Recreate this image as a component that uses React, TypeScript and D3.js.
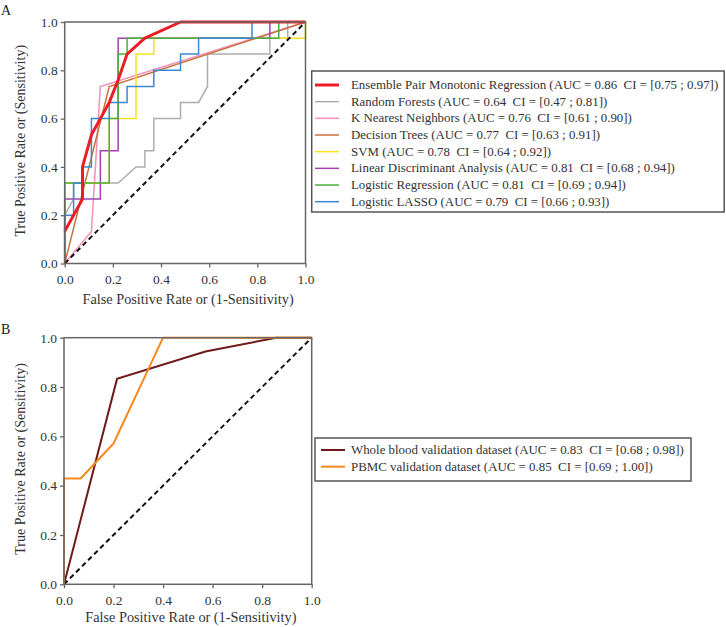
import React, { useEffect, useRef } from "react";
import * as d3 from "d3";

type Pt = [number, number];

const tickValues = [0, 0.2, 0.4, 0.6, 0.8, 1.0];

// Panel A - models on the training set
const modelNames = [
  "Ensemble Pair Monotonic Regression",
  "Random Forests",
  "K Nearest Neighbors",
  "Decision Trees",
  "SVM",
  "Linear Discriminant Analysis",
  "Logistic Regression",
  "Logistic LASSO",
];
const modelAuc = [0.86, 0.64, 0.76, 0.77, 0.78, 0.81, 0.81, 0.79];
const modelCiLow = [0.75, 0.47, 0.61, 0.63, 0.64, 0.68, 0.69, 0.66];
const modelCiHigh = [0.97, 0.81, 0.9, 0.91, 0.92, 0.94, 0.94, 0.93];

const ensembleRoc: Pt[] = [
  [0, 0.133], [0.074, 0.267], [0.074, 0.4], [0.111, 0.533], [0.148, 0.6],
  [0.185, 0.667], [0.222, 0.76], [0.259, 0.867], [0.333, 0.933], [0.481, 1], [1, 1],
];
const forestRoc: Pt[] = [
  [0, 0], [0, 0.2], [0.037, 0.267], [0.037, 0.333], [0.222, 0.333], [0.296, 0.4],
  [0.333, 0.4], [0.333, 0.467], [0.37, 0.467], [0.37, 0.6], [0.481, 0.6],
  [0.481, 0.667], [0.556, 0.667], [0.593, 0.733], [0.593, 0.867], [0.852, 0.867],
  [0.852, 0.933], [0.926, 0.933], [0.926, 1], [1, 1],
];
const knnRoc: Pt[] = [[0, 0], [0.111, 0.133], [0.148, 0.733], [1, 1]];
const treeRoc: Pt[] = [[0, 0], [0.185, 0.733], [1, 1]];
const svmRoc: Pt[] = [
  [0, 0], [0, 0.333], [0.185, 0.333], [0.185, 0.6], [0.296, 0.6], [0.296, 0.867],
  [0.37, 0.867], [0.37, 0.933], [1, 0.933], [1, 1],
];
const ldaRoc: Pt[] = [
  [0, 0], [0, 0.267], [0.148, 0.267], [0.148, 0.467], [0.222, 0.467], [0.222, 0.933],
  [0.852, 0.933], [0.852, 1], [1, 1],
];
const logisticRoc: Pt[] = [
  [0, 0], [0, 0.333], [0.185, 0.333], [0.185, 0.6], [0.222, 0.6], [0.222, 0.867],
  [0.259, 0.867], [0.259, 0.933], [0.889, 0.933], [0.889, 1], [1, 1],
];
const lassoRoc: Pt[] = [
  [0, 0], [0, 0.2], [0.037, 0.2], [0.037, 0.333], [0.074, 0.333], [0.074, 0.4],
  [0.111, 0.4], [0.111, 0.6], [0.185, 0.6], [0.185, 0.667], [0.259, 0.667],
  [0.259, 0.733], [0.37, 0.733], [0.37, 0.8], [0.481, 0.8], [0.481, 0.867],
  [0.556, 0.867], [0.556, 0.933], [0.778, 0.933], [0.778, 1], [1, 1],
];

// Panel B - validation datasets
const validNames = ["Whole blood validation dataset", "PBMC validation dataset"];
const validAuc = [0.83, 0.85];
const validCiLow = [0.68, 0.69];
const validCiHigh = [0.98, 1.0];
const wholeBloodRoc: Pt[] = [[0, 0], [0.214, 0.833], [0.571, 0.944], [0.857, 1], [1, 1]];
const pbmcRoc: Pt[] = [[0, 0], [0, 0.429], [0.067, 0.429], [0.2, 0.571], [0.4, 1], [1, 1]];

const FONT = "'Liberation Serif', 'DejaVu Serif', serif";

const label = (name: string, auc: number, lo: number, hi: number) =>
  `${name} (AUC = ${auc.toFixed(2)}  CI = [${lo.toFixed(2)} ; ${hi.toFixed(2)}])`;

interface Curve { pts: Pt[]; color: string; width: number; }

function drawPanel(svg: any, o: {
  x0: number; x1: number; top: number; bottom: number;
  curves: Curve[]; // last one goes on top of the diagonal
  legend: { text: string; color: string; width: number }[];
  box: { x: number; y: number; w: number; h: number; sampleX: number; rowY: number; };
  letter: string; letterY: number; xTitleY: number;
}) {
  const x = d3.scaleLinear().domain([0, 1]).range([o.x0, o.x1]);
  const y = d3.scaleLinear().domain([0, 1]).range([o.bottom, o.top]);
  const g = svg.append("g");

  const line = d3.line<Pt>().x(d => x(d[0])).y(d => y(d[1]));

  const under = o.curves.slice(0, -1);
  const top = o.curves[o.curves.length - 1];
  under.forEach(c => {
    g.append("path").attr("d", line(c.pts)).attr("fill", "none")
      .attr("stroke", c.color).attr("stroke-width", c.width);
  });
  g.append("path").attr("d", line([[0, 0], [1, 1]])).attr("fill", "none")
    .attr("stroke", "#111").attr("stroke-width", 2).attr("stroke-dasharray", "5,3.5");
  g.append("path").attr("d", line(top.pts)).attr("fill", "none")
    .attr("stroke", top.color).attr("stroke-width", top.width).attr("stroke-linejoin", "round");

  // frame
  g.append("rect").attr("x", o.x0).attr("y", o.top)
    .attr("width", o.x1 - o.x0).attr("height", o.bottom - o.top)
    .attr("fill", "none").attr("stroke", "#666").attr("stroke-width", 1.5);

  const ax = g.append("g").attr("transform", `translate(0,${o.bottom})`)
    .call(d3.axisBottom(x).tickValues(tickValues).tickFormat(d3.format(".1f")).tickSize(4).tickPadding(7));
  const ay = g.append("g").attr("transform", `translate(${o.x0},0)`)
    .call(d3.axisLeft(y).tickValues(tickValues).tickFormat(d3.format(".1f")).tickSize(4).tickPadding(3));
  [ax, ay].forEach(a => {
    a.select(".domain").remove();
    a.selectAll("line").attr("stroke", "#666").attr("stroke-width", 1.3);
    a.selectAll("text").attr("font-family", FONT).attr("font-size", 13.5).attr("fill", "#333");
  });

  g.append("text").attr("x", (o.x0 + o.x1) / 2 + 3).attr("y", o.xTitleY)
    .attr("text-anchor", "middle").attr("font-family", FONT).attr("font-size", 14.3)
    .attr("fill", "#333").text("False Positive Rate or (1-Sensitivity)");
  g.append("text")
    .attr("transform", `translate(25,${(o.top + o.bottom) / 2 - 2}) rotate(-90)`)
    .attr("text-anchor", "middle").attr("font-family", FONT).attr("font-size", 14)
    .attr("fill", "#333").text("True Positive Rate or (Sensitivity)");
  g.append("text").attr("x", 1).attr("y", o.letterY).attr("font-family", FONT)
    .attr("font-size", 14).attr("fill", "#222").text(o.letter);

  // legend
  const b = o.box;
  g.append("rect").attr("x", b.x).attr("y", b.y).attr("width", b.w).attr("height", b.h)
    .attr("fill", "#fff").attr("stroke", "#555").attr("stroke-width", 1.5);
  o.legend.forEach((l, i) => {
    const ry = b.rowY + i * 16.67;
    g.append("line").attr("x1", b.sampleX).attr("x2", b.sampleX + 24)
      .attr("y1", ry).attr("y2", ry).attr("stroke", l.color).attr("stroke-width", l.width);
    g.append("text").attr("x", 351).attr("y", ry + 4).attr("font-family", FONT)
      .attr("font-size", 12.9).attr("fill", "#333").attr("xml:space", "preserve")
      .style("white-space", "pre").text(l.text);
  });
}

export default function App() {
  const ref = useRef<SVGSVGElement | null>(null);

  useEffect(() => {
    const svg = d3.select(ref.current);
    svg.selectAll("*").remove();

    const colorsA = ["#ec1c24", "#adadad", "#f48fb8", "#c8703c", "#f5e21a", "#a43fb0", "#4cae3e", "#3d87d3"];
    const rocsA = [ensembleRoc, forestRoc, knnRoc, treeRoc, svmRoc, ldaRoc, logisticRoc, lassoRoc];
    const curvesA: Curve[] = rocsA.slice(1).map((pts, i) => ({ pts, color: colorsA[i + 1], width: 1.5 }));
    curvesA.push({ pts: ensembleRoc, color: colorsA[0], width: 3 });

    drawPanel(svg, {
      x0: 64.7, x1: 305.5, top: 22, bottom: 263.5,
      curves: curvesA,
      legend: modelNames.map((n, i) => ({
        text: label(n, modelAuc[i], modelCiLow[i], modelCiHigh[i]),
        color: colorsA[i], width: i === 0 ? 3 : 1.5,
      })),
      box: { x: 311.7, y: 71, w: 412.5, h: 141, sampleX: 315, rowY: 85 },
      letter: "A", letterY: 15, xTitleY: 304,
    });

    const colorsB = ["#6e1a1a", "#f7891c"];
    drawPanel(svg, {
      x0: 64, x1: 311.7, top: 337.7, bottom: 584.3,
      curves: [
        { pts: wholeBloodRoc, color: colorsB[0], width: 2 },
        { pts: pbmcRoc, color: colorsB[1], width: 2 },
      ],
      legend: validNames.map((n, i) => ({
        text: label(n, validAuc[i], validCiLow[i], validCiHigh[i]),
        color: colorsB[i], width: 2,
      })),
      box: { x: 315, y: 438, w: 376, h: 43, sampleX: 321, rowY: 450 },
      letter: "B", letterY: 334, xTitleY: 622,
    });
  }, []);

  return (
    <div style={{ position: "absolute", left: 0, top: 0 }}>
      <svg ref={ref} width={726} height={627} style={{ display: "block", background: "#fff" }} />
    </div>
  );
}
